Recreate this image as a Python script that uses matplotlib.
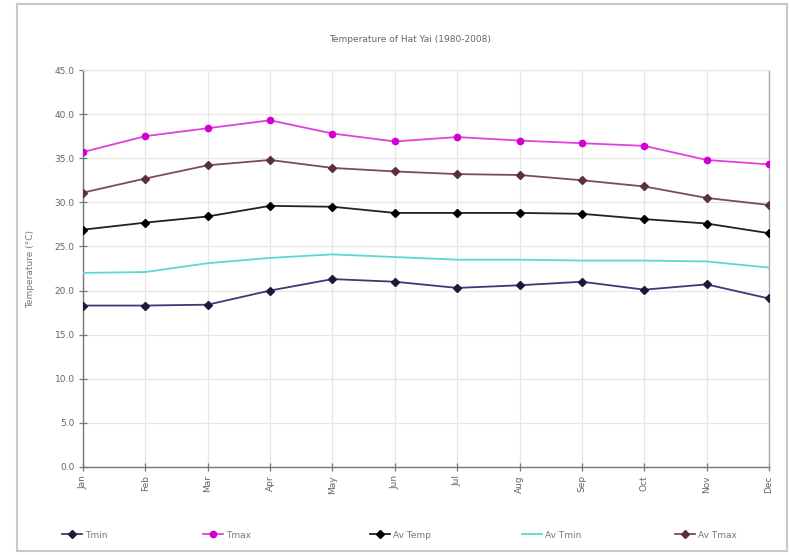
import matplotlib
matplotlib.use("Agg")
import matplotlib.pyplot as plt
from matplotlib.patches import Rectangle

months = ["Jan", "Feb", "Mar", "Apr", "May", "Jun", "Jul", "Aug", "Sep", "Oct", "Nov", "Dec"]
tmin = [18.3, 18.3, 18.4, 20.0, 21.3, 21.0, 20.3, 20.6, 21.0, 20.1, 20.7, 19.1]
tmax = [35.7, 37.5, 38.4, 39.3, 37.8, 36.9, 37.4, 37.0, 36.7, 36.4, 34.8, 34.3]
av_temp = [26.9, 27.7, 28.4, 29.6, 29.5, 28.8, 28.8, 28.8, 28.7, 28.1, 27.6, 26.5]
av_tmin = [22.0, 22.1, 23.1, 23.7, 24.1, 23.8, 23.5, 23.5, 23.4, 23.4, 23.3, 22.6]
av_tmax = [31.1, 32.7, 34.2, 34.8, 33.9, 33.5, 33.2, 33.1, 32.5, 31.8, 30.5, 29.7]
y_ticks = [0, 5, 10, 15, 20, 25, 30, 35, 40, 45]

W, H = 789, 555
fig = plt.figure(figsize=(W / 100, H / 100), dpi=100)
fig.patch.set_facecolor("white")

# chart-area frame
fig.patches.append(Rectangle((17 / W, 4 / H), (W - 19) / W, (H - 8) / H,
                             transform=fig.transFigure, fill=False,
                             edgecolor="#c8c8c8", linewidth=1.5))

left, right, top, bottom = 83, 769, 70, 467
ax = fig.add_axes([left / W, 1 - bottom / H, (right - left) / W, (bottom - top) / H])

x = list(range(len(months)))
series = [
    ("Tmin", tmin, "#3a3a7a", "#1a1a3a", "D"),
    ("Tmax", tmax, "#e040e0", "#d000d0", "o"),
    ("Av Temp", av_temp, "#222222", "#000000", "D"),
    ("Av Tmin", av_tmin, "#5cd8d0", "#5cd8d0", None),
    ("Av Tmax", av_tmax, "#7a4a5e", "#5a3040", "D"),
]
handles = []
for name, vals, lc, mc, mk in series:
    (h,) = ax.plot(x, vals, color=lc, linewidth=1.3, marker=mk,
                   markersize=(4.5 if mk == "o" else 3.6), markerfacecolor=mc,
                   markeredgecolor=mc, label=name, zorder=3)
    handles.append(h)

ax.set_xlim(0, len(months) - 1)
ax.set_ylim(0, 45)
ax.set_yticks(y_ticks)
ax.set_yticklabels([f"{v:.1f}" for v in y_ticks])
ax.set_xticks(x)
ax.set_xticklabels(months, rotation=90)

ax.grid(True, color="#e6e6e6", linewidth=0.9, zorder=0)
ax.tick_params(axis="both", direction="inout", length=6, width=0.9,
               color="#777777", labelcolor="#666666", labelsize=6.5)
ax.tick_params(axis="y", pad=3)
ax.tick_params(axis="x", pad=3)

for side in ("left", "bottom"):
    ax.spines[side].set_color("#777777")
    ax.spines[side].set_linewidth(1.0)
ax.spines["right"].set_color("#aaaaaa")
ax.spines["right"].set_linewidth(1.0)
ax.spines["top"].set_color("#e6e6e6")
ax.spines["top"].set_linewidth(0.9)

ax.set_ylabel("Temperature (°C)", fontsize=6.5, color="#777777", labelpad=14)
fig.text(410 / W, 1 - 40 / H, "Temperature of Hat Yai (1980-2008)",
         ha="center", va="center", fontsize=6.5, color="#666666")

# legend entries laid out along the bottom of the chart area
legend_x = [62, 203, 370, 522, 675]
for h, lx in zip(handles, legend_x):
    leg = fig.legend(handles=[h], labels=[h.get_label()], loc="center left",
                     bbox_to_anchor=(lx / W, 1 - 535 / H), frameon=False,
                     fontsize=6.5, handlelength=2.2, handletextpad=0.4,
                     borderaxespad=0, borderpad=0)
    for t in leg.get_texts():
        t.set_color("#777777")

fig.savefig("out.png", dpi=100, facecolor="white")
